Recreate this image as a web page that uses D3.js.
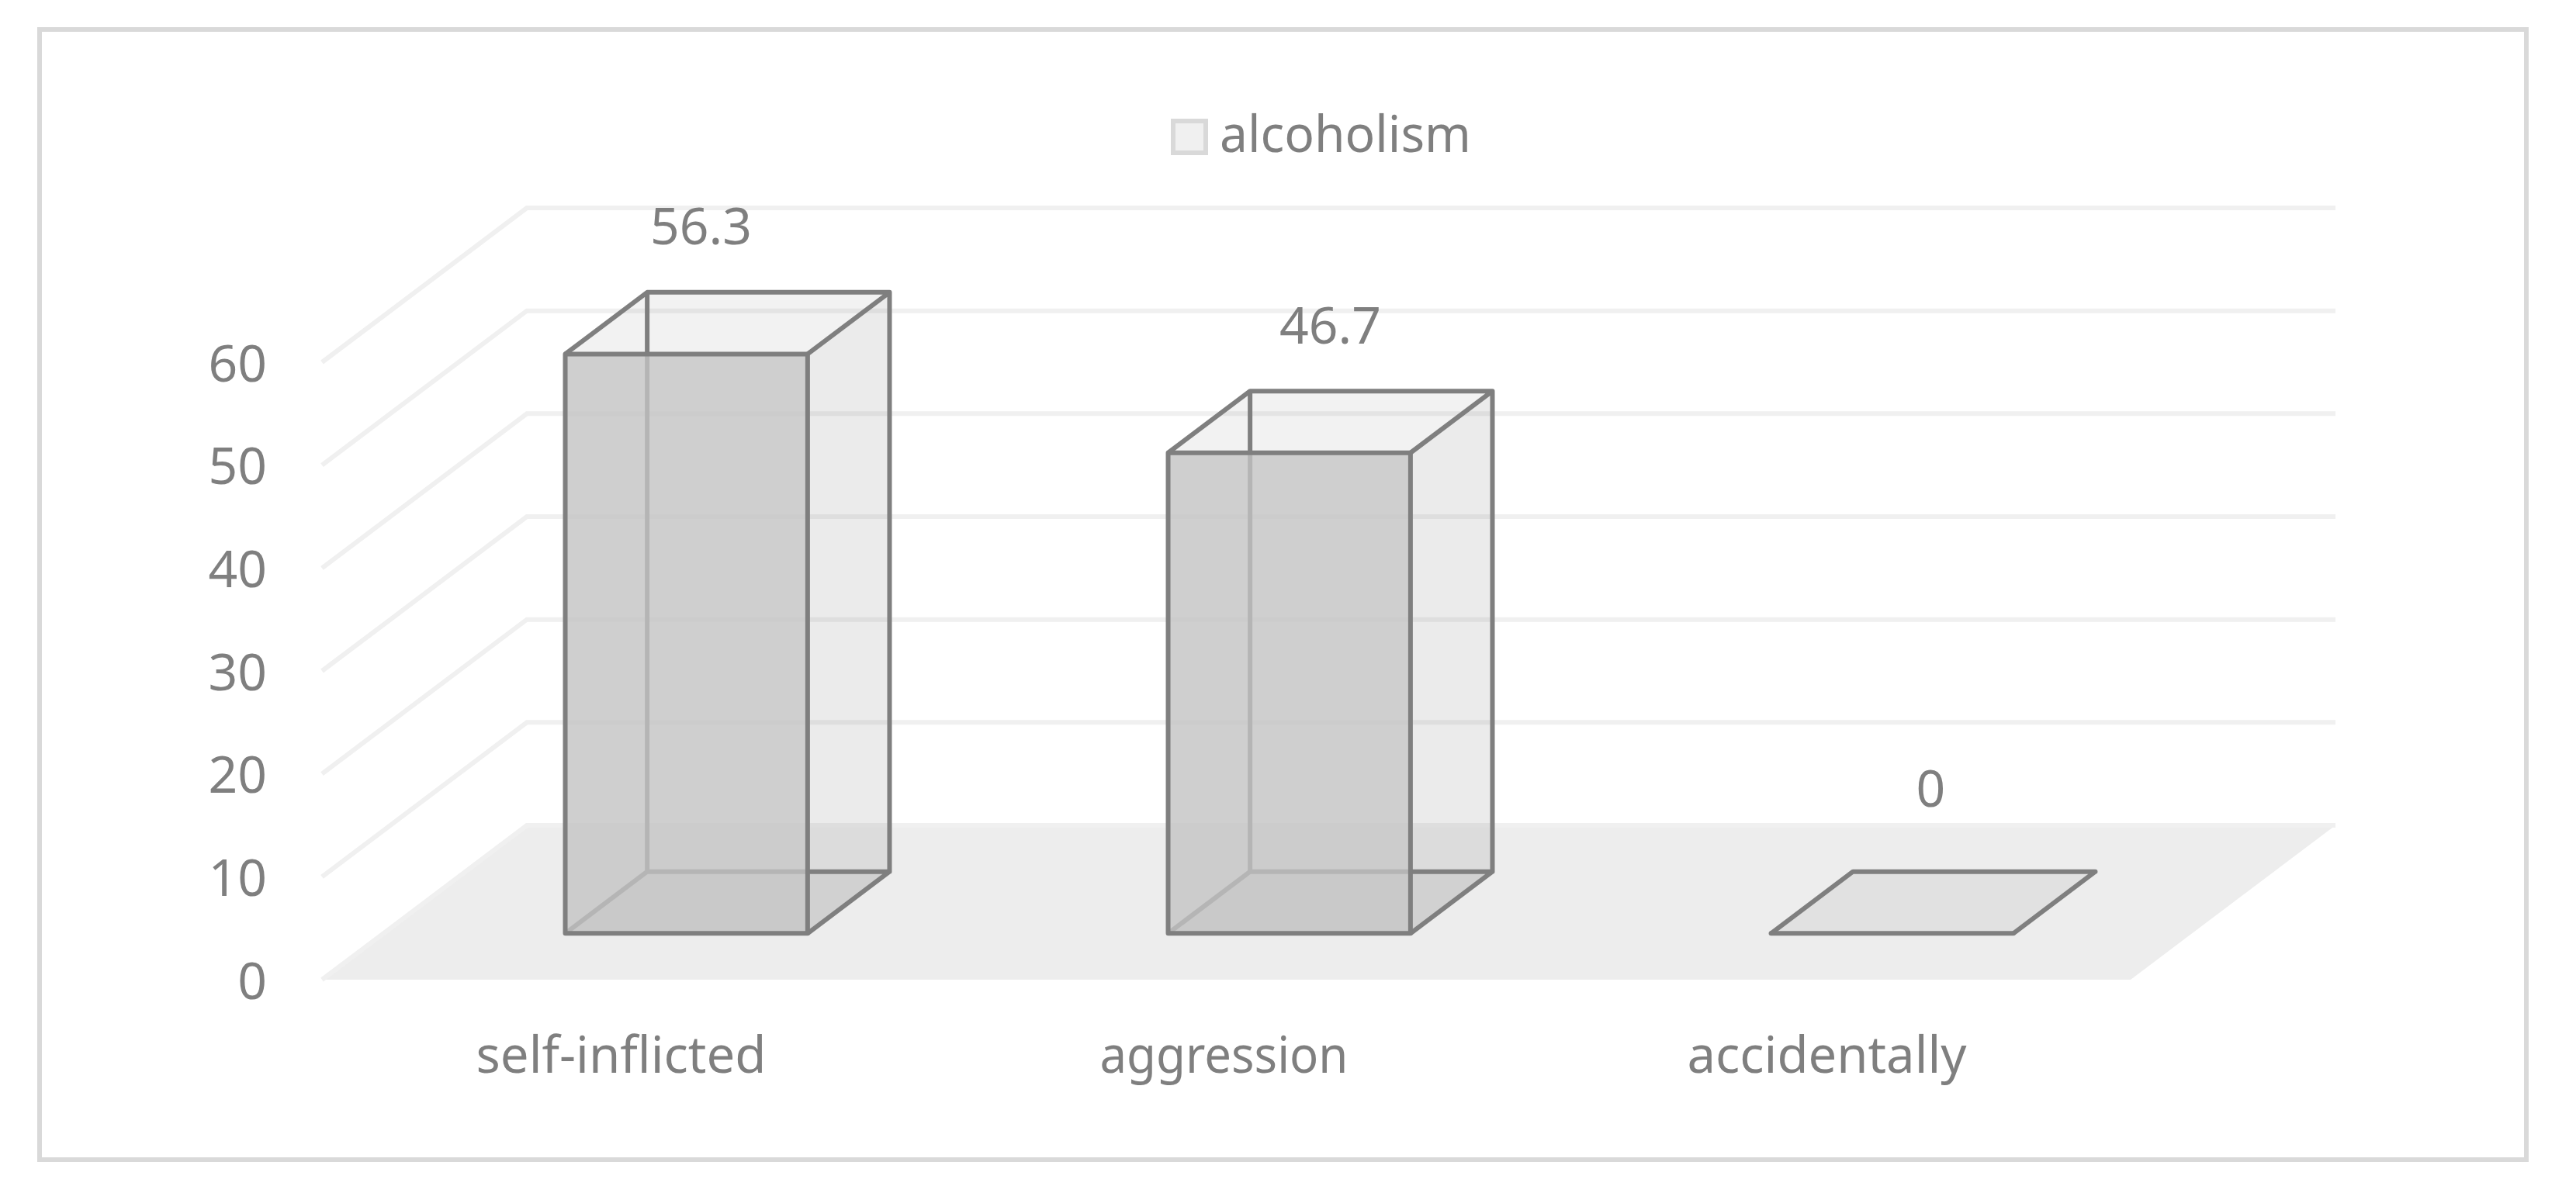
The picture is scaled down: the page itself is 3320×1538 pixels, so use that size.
<!DOCTYPE html>
<html>
<head>
<meta charset="utf-8">
<script src="https://cdn.jsdelivr.net/npm/d3@7"></script>
<style>
body { margin: 0; background: #fff; }
text { font-family: "Noto Sans", sans-serif; fill: #7f7f7f; }
</style>
</head>
<body>
<script>
//chart data
var categories = ["self-inflicted", "aggression", "accidentally"];
var seriesName = "alcoholism";
var values = [56.3, 46.7, 0];
var valueLabels = ["56.3", "46.7", "0"];
var yTicks = [0, 10, 20, 30, 40, 50, 60];

//svg size
var w = 3320, h = 1538;

//the fake 3d floor: how far the back of the chart is shifted from the front
var depthX = 264, depthY = 199;
var barDepth = [0.3, 0.7]; //bars stand in the middle of the floor
var barShift = 2; //bars sit a hair right of the band

//data label nudges, excel put these by hand
var labelDx = [-34, 0, -3], labelDy = [-62, -61, -84];

//the source font is narrower than ours, so squeeze the wide words to the measured width
var categoryWidths = [374, 320, 360];
var legendWidth = 324;

var x = d3.scaleBand()
    .domain(categories)
    .range([415, 2746])
    .paddingInner(0.598)
    .paddingOuter(0.299);

var y = d3.scaleLinear()
    .domain([0, 60])
    .range([1263, 467]);

//screen point for a position on the front plane pushed back by depth d (0 to 1)
function project(px, v, d){
    return [px + d * depthX, y(v) - d * depthY];
}

var line = d3.line();

var svg = d3.select("body")
    .append("svg")
    .attr("width", w)
    .attr("height", h);

//outer frame
svg.append("rect")
    .attr("x", 51)
    .attr("y", 38)
    .attr("width", 3205)
    .attr("height", 1457)
    .attr("fill", "#fff")
    .attr("stroke", "#d9d9d9")
    .attr("stroke-width", 6);

//floor
var x0 = x.range()[0], x1 = x.range()[1];
svg.append("path")
    .attr("d", line([project(x0, 0, 0), project(x1, 0, 0), project(x1, 0, 1), project(x0, 0, 1)]) + "Z")
    .attr("fill", "#ededed");

//gridlines go along the left wall and then along the back wall
svg.append("g")
    .selectAll("path")
    .data(yTicks)
    .enter()
    .append("path")
    .attr("d", function(d){
        return line([project(x0, d, 0), project(x0, d, 1), project(x1, d, 1)]);
    })
    .attr("fill", "none")
    .attr("stroke", "#f0f0f0")
    .attr("stroke-width", 6);

//bars
var bars = svg.append("g")
    .selectAll("g")
    .data(values)
    .enter()
    .append("g");

//corner helper: side 0 or 1 across the band, depth 0 or 1 across barDepth
function corner(i, v, side, back){
    var bx = x(categories[i]) + barShift + side * x.bandwidth();
    return project(bx, v, barDepth[back]);
}

function face(pts){
    return line(pts) + "Z";
}

//bottom
bars.append("path")
    .attr("d", function(d, i){
        return face([corner(i, 0, 0, 0), corner(i, 0, 1, 0), corner(i, 0, 1, 1), corner(i, 0, 0, 1)]);
    })
    .attr("fill", "rgba(128,128,128,0.1)");

//right side and top, zero bar has nothing to show here
bars.filter(function(d){ return d > 0; })
    .append("path")
    .attr("d", function(d, i){
        return face([corner(i, 0, 1, 0), corner(i, d, 1, 0), corner(i, d, 1, 1), corner(i, 0, 1, 1)]);
    })
    .attr("fill", "rgba(128,128,128,0.16)");

bars.filter(function(d){ return d > 0; })
    .append("path")
    .attr("d", function(d, i){
        return face([corner(i, d, 0, 0), corner(i, d, 1, 0), corner(i, d, 1, 1), corner(i, d, 0, 1)]);
    })
    .attr("fill", "rgba(128,128,128,0.1)");

//edges at the back, these show through the front face
bars.append("path")
    .attr("d", function(d, i){
        return line([corner(i, 0, 0, 0), corner(i, 0, 0, 1), corner(i, d, 0, 1)]) +
            line([corner(i, 0, 0, 1), corner(i, 0, 1, 1), corner(i, d, 1, 1), corner(i, d, 0, 1), corner(i, d, 0, 0)]) +
            line([corner(i, d, 1, 0), corner(i, d, 1, 1)]) +
            line([corner(i, 0, 1, 0), corner(i, 0, 1, 1)]);
    })
    .attr("fill", "none")
    .attr("stroke", "#7f7f7f")
    .attr("stroke-width", 6)
    .attr("stroke-linejoin", "round");

//front face
bars.append("path")
    .attr("d", function(d, i){
        return face([corner(i, 0, 0, 0), corner(i, 0, 1, 0), corner(i, d, 1, 0), corner(i, d, 0, 0)]);
    })
    .attr("fill", "rgba(195,195,195,0.8)")
    .attr("stroke", "#7f7f7f")
    .attr("stroke-width", 6)
    .attr("stroke-linejoin", "round");

//value labels above each bar
svg.append("g")
    .selectAll("text")
    .data(values)
    .enter()
    .append("text")
    .attr("x", function(d, i){
        return (corner(i, d, 0, 0)[0] + corner(i, d, 1, 1)[0]) / 2 + labelDx[i];
    })
    .attr("y", function(d, i){
        return corner(i, d, 1, 1)[1] + labelDy[i];
    })
    .attr("text-anchor", "middle")
    .attr("font-size", 66)
    .text(function(d, i){ return valueLabels[i]; });

//y axis
var yAxis = svg.append("g")
    .attr("transform", "translate(344,3)")
    .call(d3.axisLeft(y).tickValues(yTicks).tickSize(0).tickPadding(0));
yAxis.select(".domain").remove();
yAxis.selectAll("text")
    .attr("font-size", 66)
    .style("font-family", '"Noto Sans", sans-serif')
    .attr("fill", "#7f7f7f");

//category axis
var xAxis = svg.append("g")
    .attr("transform", "translate(-3,1383)")
    .call(d3.axisBottom(x).tickSize(0).tickPadding(0));
xAxis.select(".domain").remove();
xAxis.selectAll("text")
    .attr("dy", 0)
    .attr("y", 0)
    .attr("font-size", 66)
    .attr("textLength", function(d, i){ return categoryWidths[i]; })
    .attr("lengthAdjust", "spacingAndGlyphs")
    .style("font-family", '"Noto Sans", sans-serif')
    .attr("fill", "#7f7f7f");

//legend
svg.append("rect")
    .attr("x", 1512)
    .attr("y", 156)
    .attr("width", 42)
    .attr("height", 41)
    .attr("fill", "#f0f0f0")
    .attr("stroke", "#d9d9d9")
    .attr("stroke-width", 6);

svg.append("text")
    .attr("x", 1572)
    .attr("y", 196)
    .attr("font-size", 66)
    .attr("textLength", legendWidth)
    .attr("lengthAdjust", "spacingAndGlyphs")
    .text(seriesName);
</script>
</body>
</html>
